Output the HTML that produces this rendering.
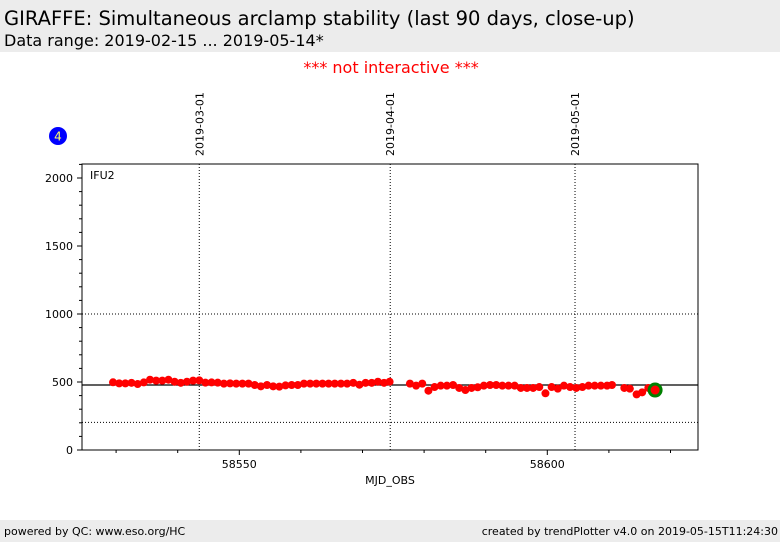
<!DOCTYPE html>
<html><head><meta charset="utf-8"><style>
body{margin:0;width:782px;height:542px;background:#fff;font-family:"DejaVu Sans","Liberation Sans",sans-serif;position:relative;overflow:hidden}
.hdr{position:absolute;left:0;top:0;width:780px;height:52px;background:#ececec}
.t1{position:absolute;left:4px;top:7px;font-size:19.5px;color:#000;white-space:nowrap}
.t2{position:absolute;left:4px;top:31px;font-size:16px;color:#000;white-space:nowrap}
.ni{position:absolute;left:0;width:782px;top:58px;text-align:center;color:#f00;font-size:16px}
.ftr{position:absolute;left:0;top:520px;width:780px;height:22px;background:#ececec;font-size:11px}
</style></head><body>
<div class="hdr">
<div class="t1">GIRAFFE: Simultaneous arclamp stability (last 90 days, close-up)</div>
<div class="t2">Data range: 2019-02-15 ... 2019-05-14*</div>
</div>
<div class="ni">*** not interactive ***</div>
<svg id="chart" width="782" height="542" style="position:absolute;left:0;top:0" font-family="DejaVu Sans, Liberation Sans, sans-serif"></svg>
<div class="ftr">
<span style="position:absolute;left:4px;top:5px">powered by QC: www.eso.org/HC</span>
<span style="position:absolute;right:2px;top:5px">created by trendPlotter v4.0 on 2019-05-15T11:24:30</span>
</div>
<script>
const mjd1=[58529.5,58530.5,58531.5,58532.5,58533.5,58534.5,58535.5,58536.5,58537.5,58538.5,58539.5,58540.5,58541.5,58542.5,58543.5,58544.5,58545.5,58546.5,58547.5,58548.5,58549.5,58550.5,58551.5,58552.5,58553.5,58554.5,58555.5,58556.5,58557.5,58558.5,58559.5,58560.5,58561.5,58562.5,58563.5,58564.5,58565.5,58566.5,58567.5,58568.5,58569.5,58570.5,58571.5,58572.5,58573.5,58574.4];
const val1=[498,490,490,494,485,497,517,510,510,517,502,494,502,510,512,495,497,495,488,490,488,488,488,478,468,478,468,466,475,478,478,488,488,488,488,488,488,488,488,494,480,494,494,502,494,502];
const mjd2=[58577.7,58578.7,58579.7,58580.7,58581.7,58582.7,58583.7,58584.7,58585.7,58586.7,58587.7,58588.7,58589.7,58590.7,58591.7,58592.7,58593.7,58594.7,58595.7,58596.7,58597.7,58598.7,58599.7,58600.7,58601.7,58602.7,58603.7,58604.7,58605.7,58606.7,58607.7,58608.7,58609.7,58610.5,58612.5,58613.4,58614.5,58615.4,58616.4];
const val2=[488,473,488,436,463,473,473,478,456,441,456,461,473,478,478,473,473,473,456,456,456,463,417,463,451,473,463,456,463,473,473,473,473,478,456,451,409,424,456];
const lastMjd=[58617.5];
const lastVal=[441];
const yTicks=[0,500,1000,1500,2000];
const xTicks=[58550,58600];
const dateLines=[58543.5,58574.5,58604.5];
const dateLabels=["2019-03-01","2019-04-01","2019-05-01"];
const refLines=[478];
const dotLines=[203,1000];

const L=82,R=698,T=164,B=450;
const X=m=>239.3+(m-58550)*6.16;
const Y=v=>B-v*0.136;
const svg=document.getElementById('chart');
const NS='http://www.w3.org/2000/svg';
function mk(tag,a){const e=document.createElementNS(NS,tag);for(const k in a)e.setAttribute(k,a[k]);svg.appendChild(e);return e;}
let fr=mk('rect',{x:L,y:T,width:R-L,height:B-T,fill:'none',stroke:'#000','stroke-width':1});


for(let v=0;v<=2100;v+=100){const y=Y(v);const major=v%500===0;
 let t=mk('line',{x1:L-(major?5:3),x2:L,y1:y,y2:y,stroke:'#000'});
 
 }
yTicks.forEach(v=>{let t=mk('text',{x:L-9,y:Y(v)+4,'text-anchor':'end','font-size':11});t.textContent=v;
 
 });
for(let m=58530;m<=58620;m+=10){const x=X(m);const major=m%50===0;
 let t=mk('line',{x1:x,x2:x,y1:B,y2:B+(major?5:3),stroke:'#000'});
 
 }
xTicks.forEach(m=>{let t=mk('text',{x:X(m),y:B+18,'text-anchor':'middle','font-size':11});t.textContent=m;
 
 });
let xl=mk('text',{x:390,y:484,'text-anchor':'middle','font-size':11});xl.textContent='MJD_OBS';


dateLines.forEach((m,i)=>{const x=X(m);
 let l=mk('line',{x1:x,x2:x,y1:T,y2:B,stroke:'#000','stroke-dasharray':'1,2'});
 
 
 let t=mk('text',{x:0,y:0,'font-size':11,transform:`translate(${x+4},${T-8}) rotate(-90)`});t.textContent=dateLabels[i];
 
 });
dotLines.forEach(v=>{let l=mk('line',{x1:L,x2:R,y1:Y(v),y2:Y(v),stroke:'#000','stroke-dasharray':'1,2'});
 
 });
refLines.forEach(v=>{let l=mk('line',{x1:L,x2:R,y1:Y(v),y2:Y(v),stroke:'#000','stroke-width':1.2});
 
 });
let lab=mk('text',{x:90,y:179,'font-size':11});lab.textContent='IFU2';


[[mjd1,val1],[mjd2,val2]].forEach(([ms,vs])=>ms.forEach((m,i)=>{
 let c=mk('circle',{cx:X(m),cy:Y(vs[i]),r:4,fill:'#f00'});
 
 }));
lastMjd.forEach((m,i)=>{
 let g=mk('circle',{cx:X(m),cy:Y(lastVal[i]),r:6,fill:'#f00',stroke:'#008000','stroke-width':3});
 
 });
let b=mk('circle',{cx:58,cy:136,r:9,fill:'#0000ff'});


let bt=mk('text',{x:58,y:140.5,'text-anchor':'middle','font-size':12,fill:'#ffff66'});bt.textContent='4';


</script>
</body></html>
